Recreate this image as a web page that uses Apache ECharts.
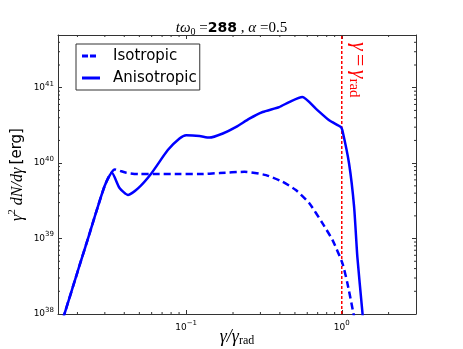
<!DOCTYPE html>
<html>
<head>
<meta charset="utf-8">
<script src="https://cdn.jsdelivr.net/npm/echarts@6/dist/echarts.min.js"></script>
<style>html,body{margin:0;padding:0;background:#fff}#main{width:463px;height:349px}</style>
</head>
<body>
<div id="main"></div>
<script>
// energy spectra (gamma / gamma_rad  vs  gamma^2 dN/dgamma in erg)
var gammaAniso = [0.0161, 0.0207, 0.0240, 0.0270, 0.0299, 0.0318, 0.0333, 0.0373, 0.0423, 0.0490, 0.0597, 0.0762, 0.0906, 0.100, 0.1217, 0.141, 0.172, 0.2096, 0.2548, 0.310, 0.396, 0.459, 0.558, 0.681, 0.830, 0.986, 1.009, 1.114, 1.200, 1.259, 1.355, 1.37];
var edAniso = [8.5e37, 4.5e38, 1.19e39, 2.62e39, 4.97e39, 6.53e39, 7.45e39, 4.68e39, 3.78e39, 4.63e39, 7.31e39, 1.49e40, 2.12e40, 2.34e40, 2.29e40, 2.18e40, 2.47e40, 3.02e40, 3.89e40, 4.76e40, 5.54e40, 6.45e40, 7.51e40, 5.28e40, 3.70e40, 3.02e40, 2.73e40, 9.9e39, 2.65e39, 5.78e38, 1.09e38, 8.5e37];

var gammaIso = [0.0161, 0.0207, 0.0240, 0.0270, 0.0299, 0.0318, 0.0347, 0.0412, 0.0502, 0.0675, 0.0906, 0.1217, 0.1637, 0.2366, 0.326, 0.416, 0.507, 0.617, 0.751, 0.871, 1.009, 1.086, 1.181, 1.208];
var edIso = [8.5e37, 4.5e38, 1.19e39, 2.62e39, 4.97e39, 6.6e39, 8.26e39, 7.45e39, 7.16e39, 7.16e39, 7.16e39, 7.16e39, 7.38e39, 7.68e39, 6.94e39, 5.66e39, 4.40e39, 2.96e39, 1.6e39, 9.6e38, 4.73e38, 2.58e38, 1.09e38, 8.5e37];

var gammaRadX = [1, 1];
var gammaRadY = [1e38, 5e41];

var xMin = 0.015, xMax = 3;
var yMin = 1e38, yMax = 5e41;
var xMinorTicks = [0.02, 0.03, 0.04, 0.05, 0.06, 0.07, 0.08, 0.09, 0.2, 0.3, 0.4, 0.5, 0.6, 0.7, 0.8, 0.9, 2];
var yMinorTicks = [2e38, 3e38, 4e38, 5e38, 6e38, 7e38, 8e38, 9e38, 2e39, 3e39, 4e39, 5e39, 6e39, 7e39, 8e39, 9e39,
	2e40, 3e40, 4e40, 5e40, 6e40, 7e40, 8e40, 9e40, 2e41, 3e41, 4e41];

function zip(xs, ys) {
	return xs.map(function (x, i) { return [x, ys[i]]; });
}

function powLabel(v) {
	var e = Math.log10(v);
	if (Math.abs(e - Math.round(e)) > 1e-6) return '';
	var n = Math.round(e);
	return '{b|10}{s|' + (n < 0 ? '\u2212' + (-n) : n) + '}';
}

var tickRich = {
	b: { fontSize: 9, fontFamily: 'DejaVu Sans', color: '#000' },
	s: { fontSize: 7, fontFamily: 'DejaVu Sans', color: '#000', padding: [0, 0, 8, 0] }
};

function minorTicks(values, dir) {
	return {
		type: 'custom',
		silent: true,
		clip: false,
		z: 5,
		data: values.map(function (v) { return dir === 'x' ? [v, yMin] : [xMin, v]; }),
		renderItem: function (params, api) {
			var st = { stroke: '#333', lineWidth: 1 };
			var a, b;
			if (dir === 'x') {
				a = api.coord([api.value(0), yMin]);
				b = api.coord([api.value(0), yMax]);
				return { type: 'group', children: [
					{ type: 'line', shape: { x1: a[0], y1: a[1], x2: a[0], y2: a[1] - 2 }, style: st },
					{ type: 'line', shape: { x1: b[0], y1: b[1], x2: b[0], y2: b[1] + 2 }, style: st }
				] };
			}
			a = api.coord([xMin, api.value(1)]);
			b = api.coord([xMax, api.value(1)]);
			return { type: 'group', children: [
				{ type: 'line', shape: { x1: a[0], y1: a[1], x2: a[0] + 2, y2: a[1] }, style: st },
				{ type: 'line', shape: { x1: b[0], y1: b[1], x2: b[0] - 2, y2: b[1] }, style: st }
			] };
		}
	};
}

var chartDom = document.getElementById('main');
var myChart = echarts.init(chartDom, null, { renderer: 'canvas' });
var option;

var frame = { show: true, lineStyle: { color: '#333', width: 1 } };
var majorTick = { show: true, inside: true, length: 4, lineStyle: { color: '#333' } };

option = {
	animation: false,
	backgroundColor: '#fff',
	title: {
		text: '{i|t\u03c9}{sub|0}{r| =}{b|288}{r| , }{i|\u03b1}{r| =0.5}',
		left: 'center',
		top: 14,
		textStyle: {
			fontWeight: 'normal',
			rich: {
				i: { fontFamily: 'Liberation Serif', fontStyle: 'italic', fontWeight: 'normal', fontSize: 15, color: '#000' },
				r: { fontFamily: 'Liberation Serif', fontWeight: 'normal', fontSize: 15, color: '#000' },
				sub: { fontFamily: 'Liberation Serif', fontWeight: 'normal', fontSize: 10, color: '#000', padding: [8, 0, 0, 0] },
				b: { fontFamily: 'DejaVu Sans', fontWeight: 'bold', fontSize: 14, color: '#000' }
			}
		}
	},
	legend: {
		data: [
			{ name: 'Isotropic', icon: 'path://M0,0h6v3h-6z M8,0h6v3h-6z M18,0h0.01v3h-0.01z' },
			{ name: 'Anisotropic', icon: 'rect' }
		],
		orient: 'vertical',
		left: 76,
		top: 44,
		padding: [3, 3, 3, 6],
		itemGap: 4,
		itemWidth: 18,
		itemHeight: 3,
		borderColor: '#333',
		borderWidth: 1,
		borderRadius: 0,
		backgroundColor: '#fff',
		itemStyle: { color: '#0000ff', borderWidth: 0 },
		textStyle: { fontFamily: 'DejaVu Sans', fontSize: 15, color: '#000', lineHeight: 18, padding: [0, 0, 0, 8] }
	},
	grid: { left: 58, right: 47, top: 35, bottom: 35, containLabel: false, outerBoundsMode: 'none' },
	xAxis: [{
		type: 'log',
		min: xMin,
		max: xMax,
		name: '{i|\u03b3/\u03b3}{sub|rad}',
		nameLocation: 'middle',
		nameGap: 13,
		nameMoveOverlap: false,
		nameTextStyle: {
			rich: {
				i: { fontFamily: 'Liberation Serif', fontStyle: 'italic', fontSize: 18, color: '#000' },
				sub: { fontFamily: 'Liberation Serif', fontSize: 12, color: '#000', padding: [8, 0, 0, 0] }
			}
		},
		axisLine: frame,
		axisTick: majorTick,
		splitLine: { show: false },
		axisLabel: { formatter: powLabel, rich: tickRich, margin: 6, showMinLabel: false, showMaxLabel: false }
	}, {
		type: 'log',
		min: xMin,
		max: xMax,
		position: 'top',
		axisLine: frame,
		axisTick: majorTick,
		splitLine: { show: false },
		axisLabel: { show: false }
	}],
	yAxis: [{
		type: 'log',
		min: yMin,
		max: yMax,
		name: '{i|\u03b3}{sup|2}{i| dN/d\u03b3} {r|[erg]}',
		nameLocation: 'middle',
		nameGap: 30,
		nameRotate: 90,
		nameMoveOverlap: false,
		nameTextStyle: {
			rich: {
				i: { fontFamily: 'Liberation Serif', fontStyle: 'italic', fontSize: 16, color: '#000' },
				sup: { fontFamily: 'Liberation Serif', fontSize: 11, color: '#000', padding: [0, 0, 10, 0] },
				r: { fontFamily: 'DejaVu Sans', fontSize: 15, color: '#000' }
			}
		},
		axisLine: frame,
		axisTick: majorTick,
		splitLine: { show: false },
		axisLabel: { formatter: powLabel, rich: tickRich, margin: 4, showMaxLabel: false }
	}, {
		type: 'log',
		min: yMin,
		max: yMax,
		position: 'right',
		axisLine: frame,
		axisTick: majorTick,
		splitLine: { show: false },
		axisLabel: { show: false }
	}],
	graphic: [{
		type: 'text',
		x: 359,
		y: 42,
		rotation: -Math.PI / 2,
		style: {
			text: '{i|\u03b3} {r|=} {i|\u03b3}{sub|rad}',
			textAlign: 'left',
			textVerticalAlign: 'middle',
			rich: {
				i: { fontFamily: 'Liberation Serif', fontStyle: 'italic', fontSize: 22, fill: '#ff0000' },
				r: { fontFamily: 'Liberation Serif', fontSize: 22, fill: '#ff0000' },
				sub: { fontFamily: 'Liberation Serif', fontSize: 15, fill: '#ff0000', padding: [10, 0, 0, 0] }
			}
		}
	}],
	series: [{
		name: 'Isotropic',
		type: 'line',
		data: zip(gammaIso, edIso),
		showSymbol: false,
		symbol: 'none',
		smooth: 0.2,
		lineStyle: { color: '#0000ff', width: 2.5, type: [7, 4] },
		itemStyle: { color: '#0000ff' }
	}, {
		name: 'Anisotropic',
		type: 'line',
		data: zip(gammaAniso, edAniso),
		showSymbol: false,
		symbol: 'none',
		smooth: 0.2,
		lineStyle: { color: '#0000ff', width: 2.5 },
		itemStyle: { color: '#0000ff' }
	}, {
		name: 'gammaRad',
		type: 'line',
		data: zip(gammaRadX, gammaRadY),
		showSymbol: false,
		symbol: 'none',
		lineStyle: { color: '#ff0000', width: 1.5, type: [3, 2] },
		z: 1
	},
	minorTicks(xMinorTicks, 'x'),
	minorTicks(yMinorTicks, 'y')
	]
};

option && myChart.setOption(option);
</script>
</body>
</html>
